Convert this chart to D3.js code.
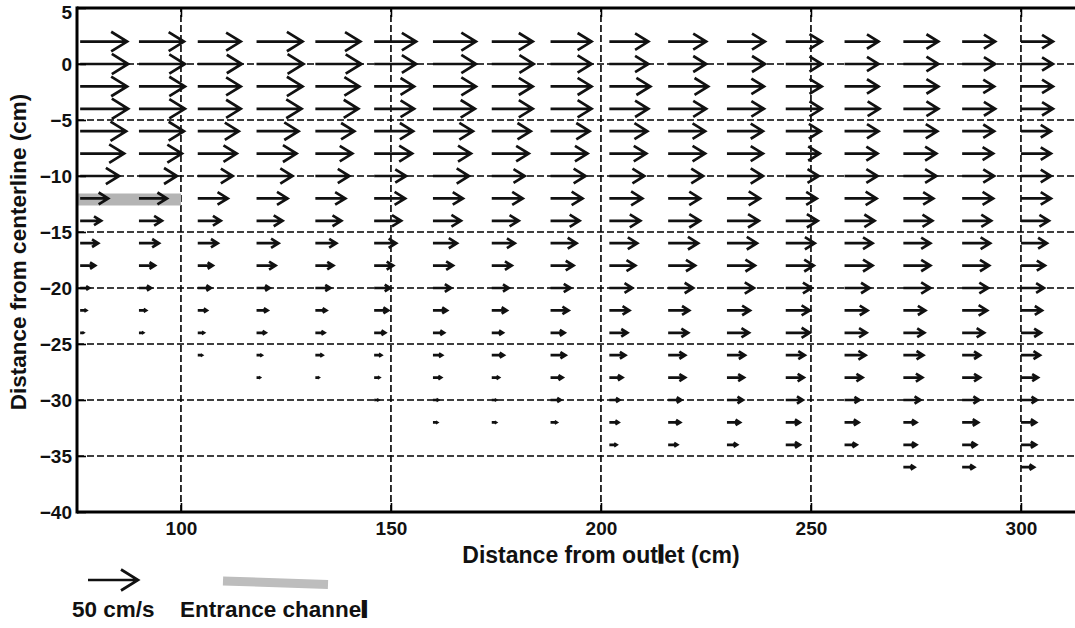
<!DOCTYPE html>
<html>
<head>
<meta charset="utf-8">
<script src="https://cdn.jsdelivr.net/npm/d3@7"></script>
<style>
  html, body { margin: 0; padding: 0; background: #fff; }
  svg { display: block; font-family: "Liberation Sans", Arial, sans-serif; font-weight: bold; }
</style>
</head>
<body>
<svg id="chart" width="1075" height="628"></svg>
<script>
// Measurement stations: distance from outlet (cm) of each vertical profile
const stationX = [76, 90, 104, 118, 132, 146, 160, 174, 188, 202, 216, 230, 244, 258, 272, 286, 300];
// Measurement depths: distance from centerline (cm), top to bottom
const depthY = [2, 0, -2, -4, -6, -8, -10, -12, -14, -16, -18, -20, -22, -24, -26, -28, -30, -32, -34, -36];
// Streamwise velocity (cm/s) at each station, listed from y = 2 downward
const speed = [
  [47, 48, 47, 48, 46, 44, 39, 28, 21, 18, 15, 9, 6, 3],
  [45, 46, 46, 46, 45, 43, 38, 28, 23, 20, 16, 12, 7, 4],
  [43, 44, 43, 43, 41, 39, 35, 30, 23, 20, 15, 13, 9, 6, 4],
  [46, 47, 46, 45, 42, 40, 36, 31, 26, 22, 19, 13, 11, 9, 5, 3],
  [45, 46, 44, 43, 39, 37, 34, 30, 26, 21, 18, 15, 11, 9, 7, 3],
  [42, 42, 40, 40, 39, 38, 32, 31, 27, 22, 19, 16, 14, 11, 7, 5, 4],
  [43, 43, 43, 42, 40, 38, 36, 30, 28, 24, 20, 18, 14, 11, 9, 8, 5, 4],
  [41, 42, 41, 41, 39, 37, 33, 31, 27, 23, 20, 17, 15, 11, 12, 7, 4, 4],
  [41, 41, 41, 41, 39, 37, 35, 32, 29, 26, 23, 20, 18, 14, 15, 12, 10, 6],
  [39, 39, 41, 39, 38, 37, 35, 33, 31, 28, 26, 23, 20, 18, 16, 13, 10, 9, 7],
  [38, 38, 40, 38, 37, 37, 35, 32, 32, 30, 27, 25, 21, 20, 17, 17, 13, 12, 9],
  [38, 38, 37, 37, 36, 36, 36, 33, 32, 30, 28, 27, 23, 22, 18, 17, 16, 13, 10],
  [36, 36, 36, 36, 35, 34, 33, 31, 32, 29, 28, 26, 24, 24, 19, 18, 17, 14, 14],
  [34, 34, 34, 35, 34, 33, 33, 32, 30, 28, 28, 25, 23, 22, 21, 18, 15, 14, 12],
  [35, 35, 35, 35, 34, 33, 33, 30, 29, 27, 27, 27, 22, 21, 20, 19, 17, 13, 13, 11],
  [33, 33, 32, 33, 32, 31, 32, 31, 29, 28, 27, 26, 25, 22, 18, 18, 17, 16, 14, 12],
  [32, 32, 32, 32, 30, 30, 30, 30, 28, 26, 24, 23, 21, 20, 19, 17, 16, 15, 15, 13]
];
const xTicks = [100, 150, 200, 250, 300];
const yTicks = [5, 0, -5, -10, -15, -20, -25, -30, -35, -40];
// Entrance channel wall position
const channelX = [75.25, 100];
const channelY = -12.1;
const referenceSpeed = 50;

const svg = d3.select("#chart");
const x = d3.scaleLinear().domain([75.25, 315.25]).range([77, 1085]);
const y = d3.scaleLinear().domain([-40, 5]).range([512, 8]);
const arrowLen = d3.scaleLinear().domain([0, 50]).range([0, 50]);

svg.append("defs").append("clipPath").attr("id", "plotArea")
  .append("rect")
  .attr("x", x.range()[0]).attr("y", y.range()[1])
  .attr("width", x.range()[1] - x.range()[0])
  .attr("height", y.range()[0] - y.range()[1]);

const plot = svg.append("g").attr("clip-path", "url(#plotArea)");

// dashed grid
plot.selectAll("line.gridx").data(xTicks).join("line")
  .attr("class", "gridx")
  .attr("x1", d => x(d)).attr("x2", d => x(d))
  .attr("y1", y(-40)).attr("y2", y(5))
  .attr("stroke", "#000").attr("stroke-width", 1.6)
  .attr("stroke-dasharray", "7,3");
plot.selectAll("line.gridy").data(yTicks.filter(v => v > -40 && v < 5)).join("line")
  .attr("class", "gridy")
  .attr("x1", x.range()[0]).attr("x2", x.range()[1])
  .attr("y1", d => y(d)).attr("y2", d => y(d))
  .attr("stroke", "#000").attr("stroke-width", 1.6)
  .attr("stroke-dasharray", "7,3");

// entrance channel
plot.append("line")
  .attr("x1", x(channelX[0])).attr("x2", x(channelX[1]))
  .attr("y1", y(channelY)).attr("y2", y(channelY))
  .attr("stroke", "#b4b4b4").attr("stroke-width", 12);

// quiver arrows
function arrowPath(x0, y0, L) {
  const tip = x0 + L, back = 0.34 * L, half = 0.21 * L;
  return `M${x0},${y0}H${tip}M${tip - back},${y0 - half}L${tip},${y0}L${tip - back},${y0 + half}`;
}
const vectors = [];
speed.forEach((col, i) => col.forEach((u, j) => vectors.push({ x: stationX[i], y: depthY[j], u })));

plot.selectAll("path.vec").data(vectors).join("path")
  .attr("class", "vec")
  .attr("d", d => arrowPath(x(d.x), y(d.y), arrowLen(d.u)))
  .attr("fill", "none").attr("stroke", "#111")
  .attr("stroke-width", 2.7).attr("stroke-linejoin", "miter");

// axes with inward ticks
const xAxis = svg.append("g").attr("transform", `translate(0,${y(-40)})`)
  .call(d3.axisBottom(x).tickValues(xTicks).tickSizeInner(-9).tickSizeOuter(0).tickPadding(10));
const xAxisTop = svg.append("g").attr("transform", `translate(0,${y(5)})`)
  .call(d3.axisTop(x).tickValues(xTicks).tickSizeInner(-9).tickSizeOuter(0).tickFormat(""));
const yAxis = svg.append("g").attr("transform", `translate(${x.range()[0]},0)`)
  .call(d3.axisLeft(y).tickValues(yTicks).tickSizeInner(-9).tickSizeOuter(0).tickPadding(5));
[xAxis, xAxisTop, yAxis].forEach(g => {
  g.select(".domain").remove();
  g.selectAll(".tick line").attr("stroke", "#000").attr("stroke-width", 1.6);
  g.selectAll(".tick text").attr("fill", "#111").attr("font-size", 19)
    .attr("font-family", "Liberation Sans, Arial, sans-serif").attr("font-weight", "bold");
});
// keep the top label inside the page
yAxis.selectAll(".tick text").filter(d => d === 5).attr("dy", "0.55em");

// axes box
const frame = svg.append("g").attr("stroke", "#000").attr("stroke-width", 3).attr("fill", "none");
frame.append("line").attr("x1", x.range()[0]).attr("x2", 1075).attr("y1", y(5)).attr("y2", y(5));
frame.append("line").attr("x1", x.range()[0]).attr("x2", 1075).attr("y1", y(-40)).attr("y2", y(-40));
frame.append("line").attr("x1", x.range()[0]).attr("x2", x.range()[0]).attr("y1", y(5) - 1.5).attr("y2", y(-40) + 1.5);

// axis titles
const xTitle = svg.append("text").attr("x", 601).attr("y", 563)
  .attr("text-anchor", "middle").attr("font-size", 23).attr("fill", "#111");
xTitle.append("tspan").text("Distance from out");
xTitle.append("tspan").attr("stroke", "#111").attr("stroke-width", 1.6).text("l");
xTitle.append("tspan").text("et (cm)");

svg.append("text")
  .attr("transform", "translate(26,252) rotate(-90)")
  .attr("text-anchor", "middle").attr("font-size", 22.5).attr("fill", "#111")
  .text("Distance from centerline (cm)");

// legend: reference arrow and entrance channel swatch
const legend = svg.append("g");
legend.append("path")
  .attr("d", arrowPath(88, 580, arrowLen(referenceSpeed)))
  .attr("fill", "none").attr("stroke", "#111").attr("stroke-width", 2.7);
legend.append("line")
  .attr("x1", 223).attr("y1", 581).attr("x2", 328).attr("y2", 584.5)
  .attr("stroke", "#bdbdbd").attr("stroke-width", 9);
legend.append("text").attr("x", 72).attr("y", 617)
  .attr("font-size", 22.5).attr("fill", "#111").text(`${referenceSpeed} cm/s`);
const chLabel = legend.append("text").attr("x", 180).attr("y", 617)
  .attr("font-size", 22.5).attr("fill", "#111");
chLabel.append("tspan").text("Entrance channe");
chLabel.append("tspan").attr("stroke", "#111").attr("stroke-width", 2).text("l");
</script>
</body>
</html>
